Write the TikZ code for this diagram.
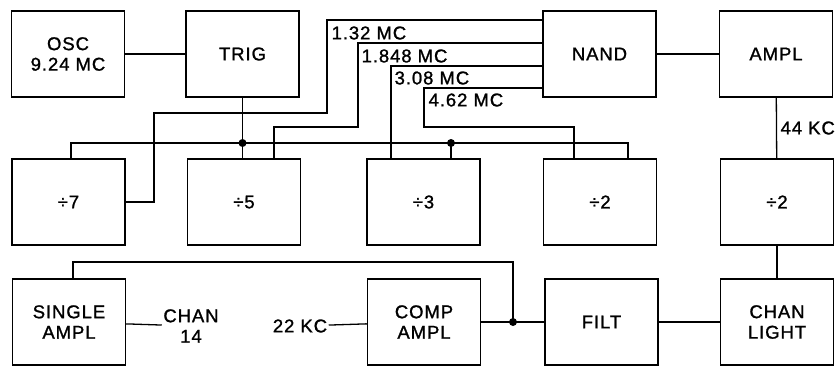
\documentclass[tikz,border=0pt]{standalone}
\usepackage{fontspec}
\setmainfont[FakeBold=1.2,LetterSpace=5]{Liberation Sans}
\usetikzlibrary{calc}

\begin{document}
\begin{tikzpicture}[x=1pt,y=-1pt,
  font=\fontsize{18.5}{20.5}\selectfont, line width=1.3pt,
  blk/.style={draw,line width=1.5pt,minimum width=113pt,minimum height=86pt,align=center,inner sep=0pt},
  lbl/.style={inner sep=1pt,align=center},
  jdot/.style={fill,radius=4pt}]
  \useasboundingbox (0,0) rectangle (835,368);
  % top row
  \node[blk] (osc)  at (68,54)    {OSC\\9.24 MC};
  \node[blk] (trig) at (242.5,54) {TRIG};
  \node[blk] (nand) at (599.5,54) {NAND};
  \node[blk] (ampl) at (776,54)   {AMPL};
  % dividers
  \node[blk] (d7)  at (68.5,202)  {÷7};
  \node[blk] (d5)  at (244,202)   {÷5};
  \node[blk] (d3)  at (423.5,202) {÷3};
  \node[blk] (d2a) at (600,202)   {÷2};
  \node[blk] (d2b) at (777,202)   {÷2};
  % bottom row
  \node[blk] (single) at (69,322)    {SINGLE\\AMPL};
  \node[blk] (comp)   at (424,322)   {COMP\\AMPL};
  \node[blk] (filt)   at (601.5,322) {FILT};
  \node[blk] (light)  at (777,322)   {CHAN\\LIGHT};
  \node[lbl] (chan14) at (191,326) {CHAN\\14};
  \node[lbl] (kc22)   at (300,326) {22 KC};
  % frequency labels
  \node[lbl,anchor=west] (f132) at (330,33)  {1.32 MC};
  \node[lbl,anchor=west] (f1848) at (360,56) {1.848 MC};
  \node[lbl,anchor=west] (f308) at (393,78)  {3.08 MC};
  \node[lbl,anchor=west] (f462) at (427,100) {4.62 MC};
  \node[lbl,anchor=west] (kc44) at (779,128) {44 KC};
  \coordinate (j1) at (trig.south |- 0,143);
  \coordinate (j2) at (451,143);
  \coordinate (j3) at (513,322);
  \coordinate (j4) at (513,262);

  \draw (osc) -- (trig);
  \draw (nand) -- (ampl);
  \draw (trig.south) -- (trig.south |- d5.north);
  \draw ([xshift=2.5]d7.north) |- (j1) -- (j2) -| ([xshift=28]d2a.north);
  \draw (j2) -- (j2 |- d3.north);
  % divider outputs to NAND
  \draw (nand.west |- 0,20) -- (327,20) -- (327,113) -- (154,113) |- (d7.east);
  \draw (nand.west |- 0,43) -- (358,43) -- (358,127) -| ([xshift=30]d5.north);
  \draw (nand.west |- 0,66) -| ([xshift=-32.5]d3.north);
  \draw (nand.west |- 0,88) -- (424,88) -- (424,127) -| ([xshift=-26]d2a.north);
  \draw (ampl) -- (d2b);
  \draw (d2b) -- (light);
  % bottom connections
  \draw ([xshift=4]single.north) |- (j4) -- (j3);
  \draw (comp) -- (j3) -- (filt);
  \draw (filt) -- (light);
  \draw (single) -- (chan14);
  \draw (kc22) -- (comp);
  \fill[jdot] (j1) circle;
  \fill[jdot] (j2) circle;
  \fill[jdot] (j3) circle;
\end{tikzpicture}
\end{document}
